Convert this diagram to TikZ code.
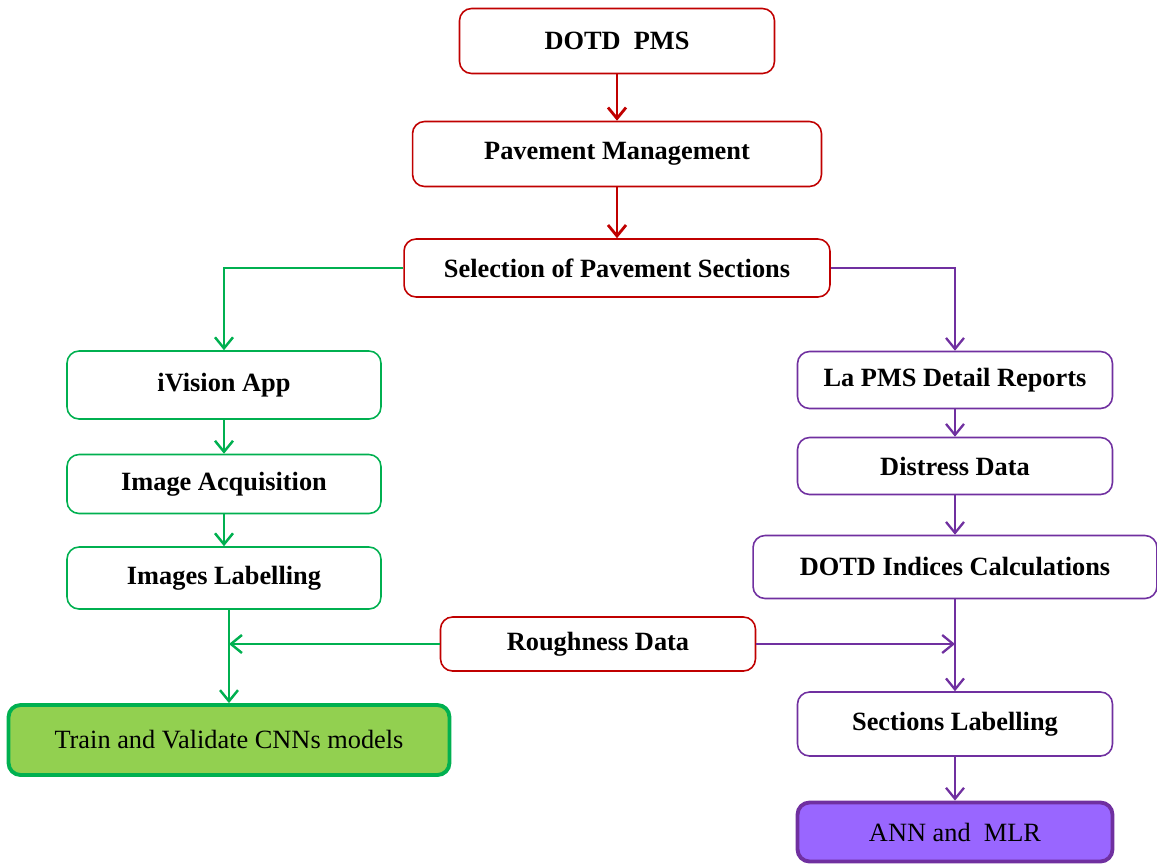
\documentclass[tikz,border=0pt]{standalone}
\usepackage{fontspec}
\setmainfont{Liberation Serif}
\usetikzlibrary{arrows.meta}

\definecolor{pmsred}{HTML}{C00000}
\definecolor{cnngreen}{HTML}{00B050}
\definecolor{cnnfill}{HTML}{92D050}
\definecolor{annpurple}{HTML}{7030A0}
\definecolor{annfill}{HTML}{9966FF}

\tikzset{
  box/.style={draw, rounded corners=0.24cm, inner sep=0pt, line width=0.9pt,
    fill=white, font=\bfseries\fontsize{15}{18}\selectfont},
  redbox/.style={box, draw=pmsred},
  greenbox/.style={box, draw=cnngreen},
  purplebox/.style={box, draw=annpurple},
  flow/.style={-{Straight Barb[length=0.22cm,width=0.36cm]}, line width=1.4pt},
  redflow/.style={flow, pmsred, line width=1.6pt},
  greenflow/.style={flow, cnngreen},
  purpleflow/.style={flow, annpurple, line width=1.3pt}
}

\begin{document}
\begin{tikzpicture}[x=0.02cm, y=-0.02cm]
  \useasboundingbox (0,0) rectangle (1157,863);

  % top chain
  \node[redbox, minimum width=6.3cm, minimum height=1.3cm] (pms) at (617,41) {DOTD\ \ PMS};
  \node[redbox, minimum width=8.18cm, minimum height=1.3cm] (mgmt) at (617,154) {Pavement Management};
  \node[redbox, minimum width=8.52cm, minimum height=1.16cm] (sel) at (617,268) {Selection of Pavement Sections};

  % left branch (images)
  \node[greenbox, minimum width=6.28cm, minimum height=1.36cm] (ivision) at (224,385) {iVision App};
  \node[greenbox, minimum width=6.28cm, minimum height=1.18cm] (acq) at (224,484) {Image Acquisition};
  \node[greenbox, minimum width=6.28cm, minimum height=1.24cm] (imglab) at (224,578) {Images Labelling};
  \node[greenbox, fill=cnnfill, line width=2.2pt, font=\fontsize{15}{18}\selectfont,
    minimum width=8.82cm, minimum height=1.4cm] (train) at (229,740) {Train and Validate CNNs models};

  \node[redbox, minimum width=6.3cm, minimum height=1.08cm] (rough) at (598,644) {Roughness Data};

  % right branch (reports)
  \node[purplebox, minimum width=6.3cm, minimum height=1.14cm] (report) at (955,380) {La PMS Detail Reports};
  \node[purplebox, minimum width=6.3cm, minimum height=1.14cm] (distress) at (955,466) {Distress Data};
  \node[purplebox, minimum width=8.08cm, minimum height=1.26cm] (indices) at (955,567) {DOTD Indices Calculations};
  \node[purplebox, minimum width=6.3cm, minimum height=1.28cm] (seclab) at (955,724) {Sections Labelling};
  \node[purplebox, fill=annfill, line width=2.2pt, font=\fontsize{15}{18}\selectfont,
    minimum width=6.3cm, minimum height=1.18cm] (ann) at (955,832) {ANN and\ \ MLR};

  \draw[redflow] (pms) -- (mgmt);
  \draw[redflow] (mgmt) -- (sel);

  \draw[greenflow] (sel.west) -| (ivision);
  \draw[greenflow] (ivision) -- (acq);
  \draw[greenflow] (acq) -- (imglab);
  \draw[greenflow] (imglab.south -| train.north) -- (train.north);
  \draw[greenflow] (rough.west) -- (rough.west -| train.north);

  \draw[purpleflow] (sel.east) -| (report);
  \draw[purpleflow] (report) -- (distress);
  \draw[purpleflow] (distress) -- (indices);
  \draw[purpleflow] (indices) -- (seclab);
  \draw[purpleflow] (seclab) -- (ann);
  \draw[purpleflow] (rough.east) -- (rough.east -| indices.south);
\end{tikzpicture}
\end{document}
